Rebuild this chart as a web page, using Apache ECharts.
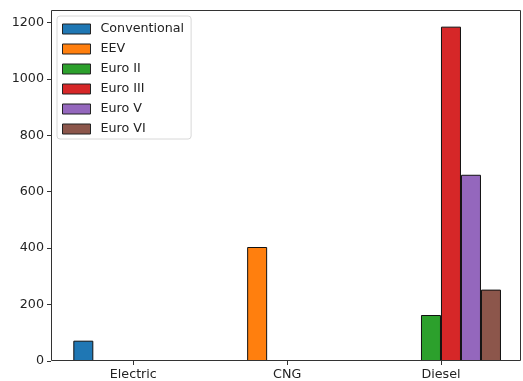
<!DOCTYPE html>
<html>
<head>
<meta charset="utf-8">
<script src="https://cdn.jsdelivr.net/npm/echarts@6/dist/echarts.min.js"></script>
<style>
  html, body { margin: 0; padding: 0; background: #fff; }
  #chart { width: 523px; height: 381px; }
</style>
</head>
<body>
<div id="chart"></div>
<script>
// Fuel categories on the x axis
const categories = ['Electric', 'CNG', 'Diesel'];

// Vehicle counts per emission standard, one value per fuel category
const conventional = [72, 0, 0];
const eev = [0, 404, 0];
const euroII = [0, 0, 163];
const euroIII = [0, 0, 1185];
const euroV = [0, 0, 660];
const euroVI = [0, 0, 253];

// Y axis tick labels
const yTicks = [0, 200, 400, 600, 800, 1000, 1200];

const seriesDefs = [
  { name: 'Conventional', data: conventional, color: '#1f77b4' },
  { name: 'EEV', data: eev, color: '#ff7f0e' },
  { name: 'Euro II', data: euroII, color: '#2ca02c' },
  { name: 'Euro III', data: euroIII, color: '#d62728' },
  { name: 'Euro V', data: euroV, color: '#9467bd' },
  { name: 'Euro VI', data: euroVI, color: '#8c564b' }
];

const font = 'DejaVu Sans';
const fontSize = 12.7;
const chart = echarts.init(document.getElementById('chart'), null, { renderer: 'canvas' });

chart.setOption({
  animation: false,
  backgroundColor: '#fff',
  textStyle: { fontFamily: font },
  grid: { left: 56.4, right: 5.1, top: 10, bottom: 20 },
  legend: {
    orient: 'vertical',
    left: 57,
    top: 16,
    padding: [6, 7, 3, 5],
    itemWidth: 28,
    itemHeight: 10,
    itemGap: 6,
    backgroundColor: 'rgba(255,255,255,0.85)',
    borderColor: '#d8d8d8',
    borderWidth: 1,
    borderRadius: 3,
    icon: 'rect',
    itemStyle: { borderColor: '#222', borderWidth: 1 },
    textStyle: { fontFamily: font, fontSize: fontSize, color: '#222', lineHeight: 14, padding: [0, 0, 0, 5] },
    data: seriesDefs.map(s => s.name)
  },
  xAxis: {
    type: 'category',
    data: categories,
    axisLine: { show: false },
    axisTick: { show: true, alignWithLabel: true, length: 4, lineStyle: { color: '#333' } },
    axisLabel: { fontFamily: font, fontSize: fontSize, color: '#222', margin: 7 },
    splitLine: { show: false }
  },
  yAxis: {
    type: 'value',
    min: 0,
    max: 1244,
    offset: 5.4,
    axisLine: { show: false },
    axisTick: { show: true, length: 4, lineStyle: { color: '#333' }, customValues: yTicks },
    axisLabel: {
      fontFamily: font, fontSize: fontSize, color: '#222', margin: 7,
      customValues: yTicks,
      formatter: v => String(v)
    },
    splitLine: { show: false }
  },
  graphic: [{
    type: 'rect',
    z: 100,
    shape: { x: 51.5, y: 10.5, width: 469, height: 350 },
    style: { fill: null, stroke: '#333', lineWidth: 1 },
    silent: true
  }],
  series: seriesDefs.map(s => ({
    type: 'bar',
    name: s.name,
    // empty slots keep their place in the group but show no outline
    data: s.data.map(v => v === 0 ? { value: v, itemStyle: { borderWidth: 0 } } : v),
    barWidth: 20,
    barGap: '0%',
    itemStyle: { color: s.color, borderColor: '#111', borderWidth: 1 }
  }))
});
</script>
</body>
</html>
